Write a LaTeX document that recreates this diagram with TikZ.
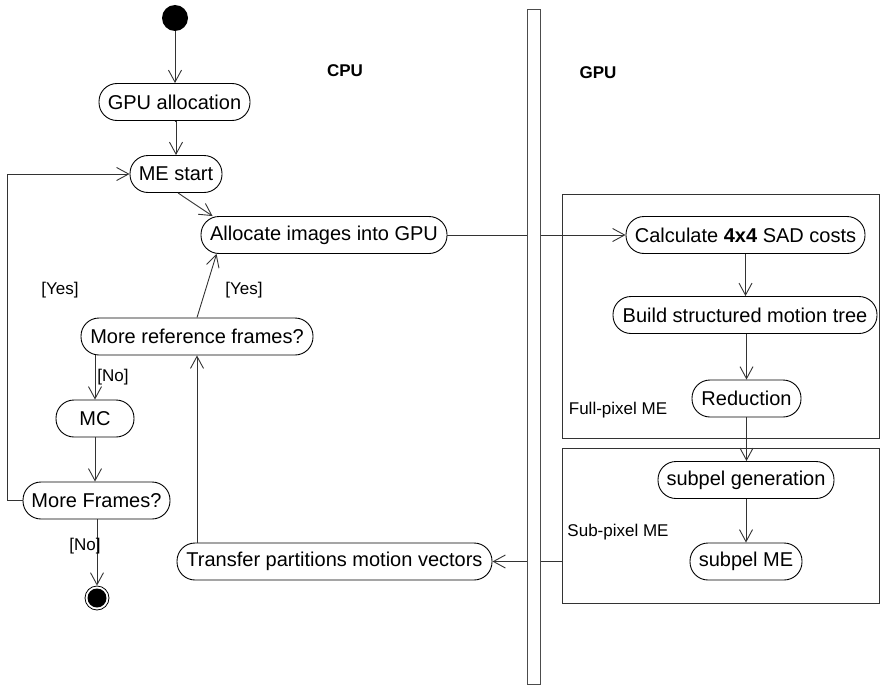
\documentclass[tikz,border=0pt]{standalone}
\usepackage{fontspec}
\setmainfont{Liberation Sans}
\usetikzlibrary{arrows.meta,calc}
\begin{document}
\begin{tikzpicture}[x=1pt,y=-1pt,
  line width=0.9pt,
  >={Straight Barb[length=12pt,width=13pt]},
  act/.style={draw, rounded corners=18pt, minimum height=37pt, inner xsep=0pt, inner ysep=0pt,
    font=\fontsize{20}{24}\selectfont},
  lbl/.style={font=\fontsize{17}{20}\selectfont, inner sep=0pt},
  lane/.style={font=\bfseries\fontsize{17}{20}\selectfont, inner sep=0pt},
  conn/.style={draw=black!80},
  region/.style={draw=black!80, line width=1pt}]
\useasboundingbox (0,0) rectangle (880,685);
% swimlane bar and regions
\node[draw=black!70, line width=1pt, minimum width=13pt, minimum height=674pt, inner sep=0pt] (bar) at (533.5,347) {};
\node[region, minimum width=317pt, minimum height=244pt, inner sep=0pt] (full) at (720.5,316) {};
\node[region, minimum width=317pt, minimum height=155pt, inner sep=0pt] (sub) at (720.5,525.5) {};
% lane titles and region labels
\node[lane] (cpu) at (345,71) {CPU};
\node[lane] (gpu) at (598,73) {GPU};
\node[lbl] (fpl) at (618,410) {Full-pixel ME};
\node[lbl] (spl) at (618,532) {Sub-pixel ME};
% start / end
\node[circle, fill=black, minimum size=26pt, inner sep=0pt] (start) at (175,18) {};
\node[circle, draw, line width=0.8pt, minimum size=24pt, inner sep=0pt] (endo) at (97,598) {};
\node[circle, fill=black, minimum size=19pt, inner sep=0pt] (endi) at (97,598) {};
% CPU activities
\node[act, minimum width=151pt] (ga) at (174.5,102) {GPU allocation};
\node[act, minimum width=92pt] (me) at (176,174) {ME start};
\node[act, minimum width=246pt] (alloc) at (324,235) {Allocate images into GPU};
\node[act, minimum width=232pt] (mrf) at (197,336.5) {More reference frames?};
\node[act, minimum width=78pt] (mc) at (95,418.5) {MC};
\node[act, minimum width=147pt] (mf) at (96.5,500.5) {More Frames?};
\node[act, minimum width=315pt] (tr) at (334.5,561.5) {Transfer partitions motion vectors};
% GPU activities
\node[act, minimum width=239pt] (calc) at (745.5,235) {Calculate \textbf{4x4} SAD costs};
\node[act, minimum width=264pt] (build) at (745,315) {Build structured motion tree};
\node[act, minimum width=109pt] (red) at (746.5,398.5) {Reduction};
\node[act, minimum width=176pt] (sgen) at (746,480) {subpel generation};
\node[act, minimum width=112pt] (sme) at (746,561.5) {subpel ME};
% connectors
\draw[conn,->] (start) -- (start |- ga.north);
\draw[conn,->] (ga.south) -- (ga.south -| me.north) -- (me.north);
\draw[conn,->] ($(me.south)+(2,0)$) -- ($(alloc.north west)+(12,0)$);
\draw[conn,->] (mrf.north) -- ($(alloc.south west)+(16,0)$);
\node[lbl] (yes1) at (244,290) {[Yes]};
\draw[conn,->] (mc.north |- mrf.south) -- (mc.north);
\node[lbl] (no1) at (113,377) {[No]};
\draw[conn,->] (mc.south) -- (mc.south |- mf.north);
\draw[conn,->] (mf.south -| endo) -- (endo.north);
\node[lbl] (no2) at (85,546) {[No]};
\draw[conn,->] (mf.west) -- ++(-15,0) |- (me.west);
\node[lbl] (yes2) at (60,290) {[Yes]};
\draw[conn,->] (mrf.south |- tr.north) -- (mrf.south);
\draw[conn] (alloc.east) -- (bar.west |- alloc.east);
\draw[conn,->] (bar.east |- calc.west) -- (calc.west);
\draw[conn,->] (calc.south) -- (calc.south |- build.north);
\draw[conn,->] (build.south -| red.north) -- (red.north);
\draw[conn,->] (red.south) -- (red.south |- sgen.north);
\draw[conn,->] (sgen.south) -- (sgen.south |- sme.north);
\draw[conn] (sub.west |- tr.east) -- (bar.east |- tr.east);
\draw[conn,->] (bar.west |- tr.east) -- (tr.east);
\end{tikzpicture}
\end{document}
